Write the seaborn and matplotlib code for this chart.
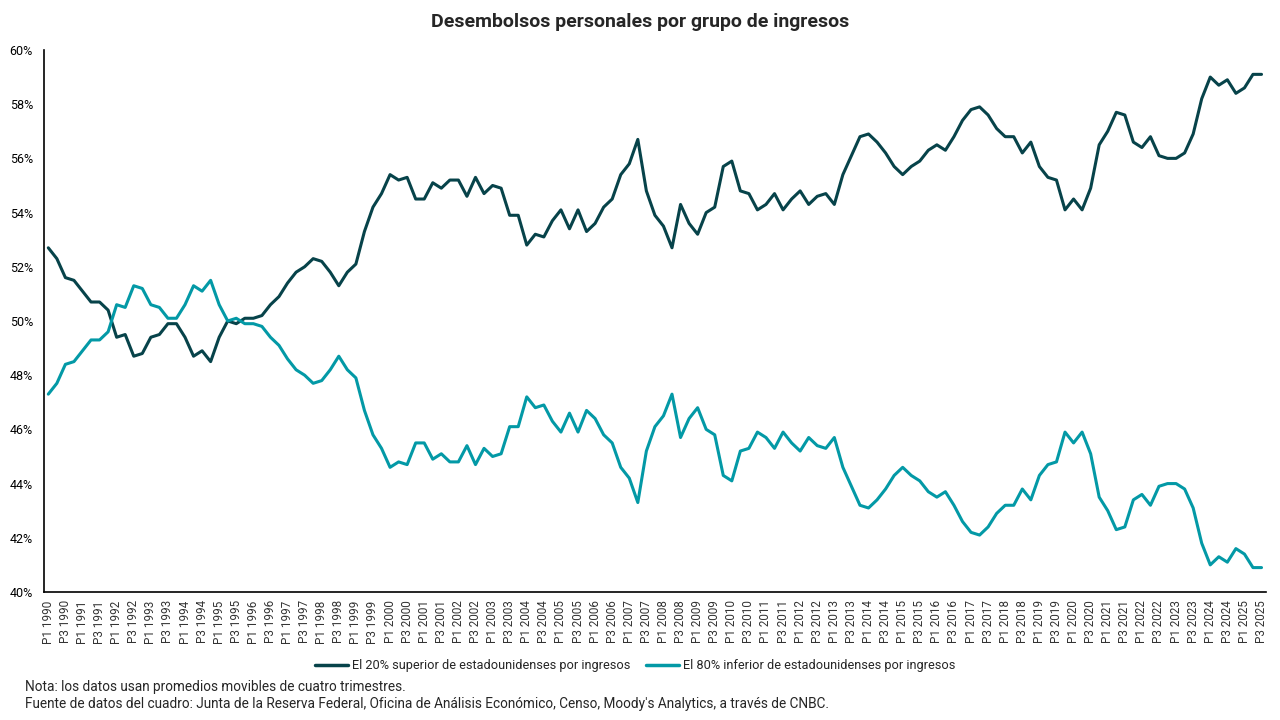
import numpy as np
import matplotlib
matplotlib.use("Agg")
import matplotlib.pyplot as plt
import pandas as pd
import seaborn as sns
from matplotlib.ticker import FuncFormatter, FixedLocator

# quarters P1 1990 .. P3 2025
years = list(range(1990, 2026))
quarters = [(y, q) for y in years for q in range(1, 5)][:143]
quarter_labels = ["P%d %d" % (q, y) for (y, q) in quarters]

# top 20% share of outlays (%)
top20 = [52.7, 52.3, 51.6, 51.5, 51.1, 50.7, 50.7, 50.4, 49.4, 49.5, 48.7, 48.8,
         49.4, 49.5, 49.9, 49.9, 49.4, 48.7, 48.9, 48.5, 49.4, 50.0, 49.9, 50.1,
         50.1, 50.2, 50.6, 50.9, 51.4, 51.8, 52.0, 52.3, 52.2, 51.8, 51.3, 51.8,
         52.1, 53.3, 54.2, 54.7, 55.4, 55.2, 55.3, 54.5, 54.5, 55.1, 54.9, 55.2,
         55.2, 54.6, 55.3, 54.7, 55.0, 54.9, 53.9, 53.9, 52.8, 53.2, 53.1, 53.7,
         54.1, 53.4, 54.1, 53.3, 53.6, 54.2, 54.5, 55.4, 55.8, 56.7, 54.8, 53.9,
         53.5, 52.7, 54.3, 53.6, 53.2, 54.0, 54.2, 55.7, 55.9, 54.8, 54.7, 54.1,
         54.3, 54.7, 54.1, 54.5, 54.8, 54.3, 54.6, 54.7, 54.3, 55.4, 56.1, 56.8,
         56.9, 56.6, 56.2, 55.7, 55.4, 55.7, 55.9, 56.3, 56.5, 56.3, 56.8, 57.4,
         57.8, 57.9, 57.6, 57.1, 56.8, 56.8, 56.2, 56.6, 55.7, 55.3, 55.2, 54.1,
         54.5, 54.1, 54.9, 56.5, 57.0, 57.7, 57.6, 56.6, 56.4, 56.8, 56.1, 56.0,
         56.0, 56.2, 56.9, 58.2, 59.0, 58.7, 58.9, 58.4, 58.6, 59.1, 59.1]

# bottom 80% share of outlays (%)
bottom80 = [47.3, 47.7, 48.4, 48.5, 48.9, 49.3, 49.3, 49.6, 50.6, 50.5, 51.3, 51.2,
            50.6, 50.5, 50.1, 50.1, 50.6, 51.3, 51.1, 51.5, 50.6, 50.0, 50.1, 49.9,
            49.9, 49.8, 49.4, 49.1, 48.6, 48.2, 48.0, 47.7, 47.8, 48.2, 48.7, 48.2,
            47.9, 46.7, 45.8, 45.3, 44.6, 44.8, 44.7, 45.5, 45.5, 44.9, 45.1, 44.8,
            44.8, 45.4, 44.7, 45.3, 45.0, 45.1, 46.1, 46.1, 47.2, 46.8, 46.9, 46.3,
            45.9, 46.6, 45.9, 46.7, 46.4, 45.8, 45.5, 44.6, 44.2, 43.3, 45.2, 46.1,
            46.5, 47.3, 45.7, 46.4, 46.8, 46.0, 45.8, 44.3, 44.1, 45.2, 45.3, 45.9,
            45.7, 45.3, 45.9, 45.5, 45.2, 45.7, 45.4, 45.3, 45.7, 44.6, 43.9, 43.2,
            43.1, 43.4, 43.8, 44.3, 44.6, 44.3, 44.1, 43.7, 43.5, 43.7, 43.2, 42.6,
            42.2, 42.1, 42.4, 42.9, 43.2, 43.2, 43.8, 43.4, 44.3, 44.7, 44.8, 45.9,
            45.5, 45.9, 45.1, 43.5, 43.0, 42.3, 42.4, 43.4, 43.6, 43.2, 43.9, 44.0,
            44.0, 43.8, 43.1, 41.8, 41.0, 41.3, 41.1, 41.6, 41.4, 40.9, 40.9]

series_names = ["El 20% superior de estadounidenses por ingresos",
                "El 80% inferior de estadounidenses por ingresos"]
colors = ["#07434a", "#0399a6"]

idx = np.arange(len(quarter_labels))
df = pd.concat([
    pd.DataFrame({"q": idx, "valor": top20, "grupo": series_names[0]}),
    pd.DataFrame({"q": idx, "valor": bottom80, "grupo": series_names[1]}),
])

sns.set_style("white")
plt.rcParams['font.family'] = ['Roboto', 'DejaVu Sans']

fig = plt.figure(figsize=(12.8, 7.2), dpi=100)
ax = fig.add_axes([0.0344, 0.1778, 0.9545, 0.7528])

sns.lineplot(data=df, x="q", y="valor", hue="grupo", hue_order=series_names,
             palette=colors, linewidth=2.2, ax=ax, legend=False)

ax.set_xlim(-0.5, len(idx) - 0.5)
ax.set_ylim(40, 60)
ax.set_yticks(np.arange(40, 61, 2))
ax.yaxis.set_major_formatter(FuncFormatter(lambda v, p: "%d%%" % v))
ax.tick_params(axis='y', direction='in', length=4, width=1, labelsize=9,
               colors='black', pad=8)

# labels every two quarters, tick marks at year boundaries
ax.set_xticks(idx[::2])
ax.set_xticklabels(quarter_labels[::2], rotation=90, fontsize=8.4, color='#333333')
ax.tick_params(axis='x', which='major', length=0, pad=6)
ax.xaxis.set_minor_locator(FixedLocator(np.arange(3.5, len(idx), 4)))
ax.tick_params(axis='x', which='minor', direction='in', length=5, width=1, color='black')

ax.set_xlabel("")
ax.set_ylabel("")
for s in ['top', 'right']:
    ax.spines[s].set_visible(False)
for s in ['left', 'bottom']:
    ax.spines[s].set_color('black')
    ax.spines[s].set_linewidth(1.2)

fig.text(0.5, 1 - 22 / 720, "Desembolsos personales por grupo de ingresos",
         ha='center', va='center', fontsize=14, fontweight='bold')

handles = [plt.Line2D([], [], color=c, lw=2.5) for c in colors]
fig.legend(handles, series_names, loc='center', bbox_to_anchor=(0.496, 1 - 666 / 720),
           ncol=2, frameon=False, fontsize=9.2, handlelength=2.6, handletextpad=0.3,
           columnspacing=1.2)

fig.text(25 / 1280, 1 - 687 / 720, "Nota: los datos usan promedios movibles de cuatro trimestres.",
         ha='left', va='center', fontsize=9.8)
fig.text(25 / 1280, 1 - 704 / 720,
         "Fuente de datos del cuadro: Junta de la Reserva Federal, Oficina de Análisis Económico, "
         "Censo, Moody's Analytics, a través de CNBC.",
         ha='left', va='center', fontsize=9.8)

fig.savefig("out.png", dpi=100)
